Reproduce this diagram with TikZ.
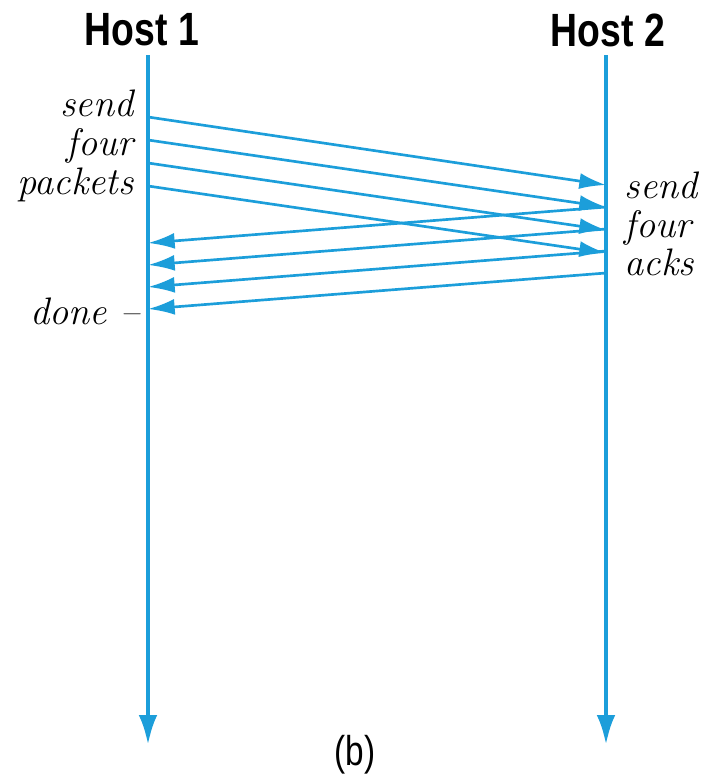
\documentclass[tikz,border=0pt]{standalone}
\usepackage{fontspec}
\newfontfamily\hostfont[FakeStretch=0.8]{Liberation Sans}
\usetikzlibrary{arrows.meta}
\definecolor{lineblue}{RGB}{28,158,218}
\tikzset{
	timeline/.style={line width=1.3pt,draw=lineblue,-{Latex[length=9pt,width=5.6pt]}},
	msg/.style={line width=0.8pt,draw=lineblue,-{Latex[length=8pt,width=4.8pt]}},
	hostlbl/.style={font=\hostfont\bfseries\fontsize{14}{16}\selectfont,inner sep=0pt},
	notelbl/.style={font=\fontsize{11.5}{11.6}\selectfont\itshape,inner sep=0pt}
}
\begin{document}
\begin{tikzpicture}[x=0.3pt,y=-0.3pt,line join=round]
	\useasboundingbox (0,0) rectangle (702,778);
	\path
	(148,55)coordinate(T1)
	(148,745)coordinate(B1)
	(606,55)coordinate(T2)
	(606,745)coordinate(B2)
	;
	\node[hostlbl] (host1) at (142,30) {Host 1};
	\node[hostlbl] (host2) at (608,30) {Host 2};
	\draw[timeline] (T1)--(B1);
	\draw[timeline] (T2)--(B2);
	% packets 1..4, then acks 1..4
	\foreach \i/\a/\b in {1/117/185,2/140/207,3/163/230,4/186/253}
	\path (148,\a) coordinate(P\i) (606,\b) coordinate(Q\i);
	\foreach \i/\a/\b in {1/207/243,2/229/265,3/251/287,4/273/309}
	\path (606,\a) coordinate(R\i) (148,\b) coordinate(S\i);
	\foreach \i in {1,...,4}
	\draw[msg] (P\i)--(Q\i);
	\foreach \i in {1,...,4}
	\draw[msg] (R\i)--(S\i);
	\node[notelbl,align=right,anchor=east] (sendpk) at (134,146) {send\\four\\packets};
	\node[notelbl,align=left,anchor=west] (sendack) at (624,224) {send\\four\\acks};
	\node[notelbl,anchor=east] (done) at (140,311) {done --};
	\node[font=\hostfont\fontsize{12.5}{14}\selectfont,inner sep=0pt] (cap) at (355,755) {(b)};
\end{tikzpicture}
\end{document}
